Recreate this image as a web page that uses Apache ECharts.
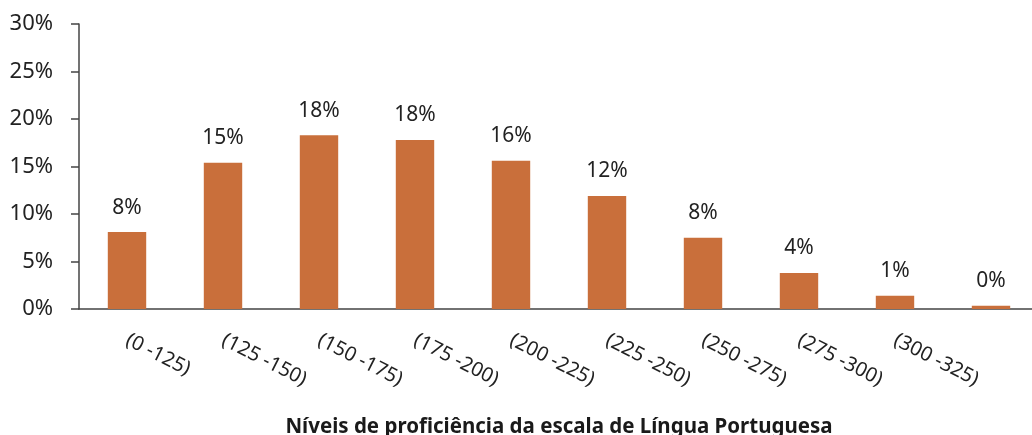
<!DOCTYPE html>
<html>
<head>
<meta charset="utf-8">
<script src="https://cdn.jsdelivr.net/npm/echarts@6/dist/echarts.min.js"></script>
<style>
  html, body { margin: 0; padding: 0; background: #fff; }
  #chart { width: 1032px; height: 435px; }
</style>
</head>
<body>
<div id="chart"></div>
<script>
// faixas da escala (a última não tem rótulo visível)
const categories = ['(0 -125)', '(125 -150)', '(150 -175)', '(175 -200)', '(200 -225)',
  '(225 -250)', '(250 -275)', '(275 -300)', '(300 -325)', '']
const percents = [8.1, 15.4, 18.3, 17.8, 15.6, 11.9, 7.5, 3.8, 1.4, 0.35]
const yTicks = [0, 5, 10, 15, 20, 25, 30]

const myChart = echarts.init(document.getElementById('chart'))

const option = {
  animation: false,
  textStyle: { fontFamily: 'Noto Sans' },
  grid: { left: 79, top: 24, width: 960, bottom: 126, outerBoundsMode: 'none', containLabel: false },
  xAxis: {
    type: 'category',
    data: categories,
    name: 'Níveis de proficiência da escala de Língua Portuguesa',
    nameLocation: 'middle',
    nameGap: 108,
    nameTextStyle: { fontSize: 20.5, fontWeight: 'bold', color: '#1a1a1a' },
    axisLine: { lineStyle: { color: '#444', width: 1.5 } },
    axisTick: { length: 8, lineStyle: { color: '#444', width: 1.5 } },
    axisLabel: {
      rotate: -27,
      margin: 30,
      fontSize: 20,
      color: '#222'
    }
  },
  yAxis: {
    type: 'value',
    min: yTicks[0],
    max: yTicks[yTicks.length - 1],
    interval: 5,
    splitLine: { show: false },
    axisLine: { show: true, lineStyle: { color: '#444', width: 1.5 } },
    axisTick: { show: true, length: 8, lineStyle: { color: '#444', width: 1.5 } },
    axisLabel: {
      fontSize: 22,
      color: '#222',
      margin: 26,
      formatter: (v) => v + '%'
    }
  },
  series: [{
    type: 'bar',
    data: percents,
    barWidth: '40%',
    itemStyle: { color: '#C96F3B' },
    label: {
      show: true,
      position: 'top',
      distance: 14,
      fontSize: 21,
      color: '#222',
      formatter: (p) => Math.round(p.value) + '%'
    }
  }]
}

myChart.setOption(option)
</script>
</body>
</html>
